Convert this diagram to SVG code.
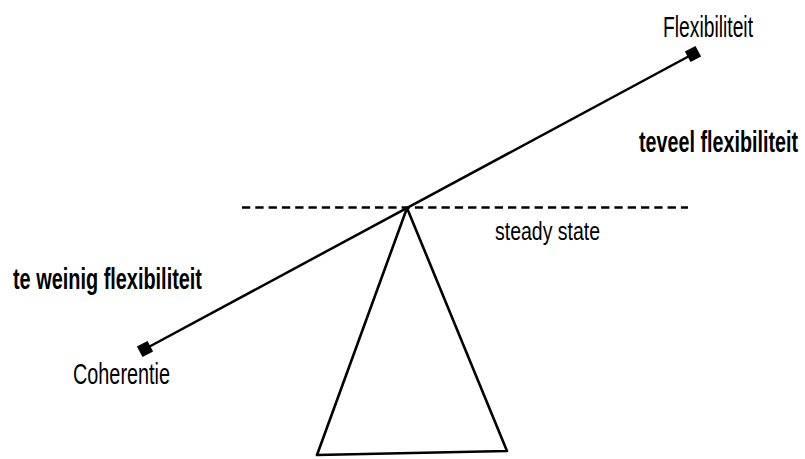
<svg xmlns="http://www.w3.org/2000/svg" width="805" height="459" viewBox="0 0 805 459">
<style>
.t{font-family:"Liberation Sans",Arial,sans-serif;fill:#000}
.n{font-size:29px}
.b{font-size:30px;font-weight:bold}
.ln{stroke:#000;stroke-width:2.5;fill:none}
</style>
<rect width="805" height="459" fill="#fff"/>
<g id="connectors">
<line class="ln" x1="242" y1="207.5" x2="688" y2="207.5" stroke-dasharray="8.3 5" stroke-width="2.6"/>
<line class="ln" x1="145" y1="349" x2="693" y2="54"/>
</g>
<g id="fulcrum">
<polygon points="407,208 317,455 507,451" fill="#fff" stroke="#000" stroke-width="2.6" stroke-linejoin="round"/>
</g>
<g id="coherentie">
<rect x="139" y="343" width="12" height="12" transform="rotate(-28 145 349)" fill="#000"/>
<text class="t n" x="73" y="384" textLength="97" lengthAdjust="spacingAndGlyphs">Coherentie</text>
</g>
<g id="flexibiliteit">
<rect x="687" y="48" width="12" height="12" transform="rotate(-28 693 54)" fill="#000"/>
<text class="t n" x="663" y="37" textLength="90" lengthAdjust="spacingAndGlyphs">Flexibiliteit</text>
</g>
<g id="steady-state">
<text class="t" style="font-size:25px" x="495" y="240" textLength="105" lengthAdjust="spacingAndGlyphs">steady state</text>
</g>
<g id="teveel">
<text class="t b" x="639" y="152" textLength="159" lengthAdjust="spacingAndGlyphs">teveel flexibiliteit</text>
</g>
<g id="teweinig">
<text class="t b" x="13" y="289" textLength="189" lengthAdjust="spacingAndGlyphs">te weinig flexibiliteit</text>
</g>
</svg>
